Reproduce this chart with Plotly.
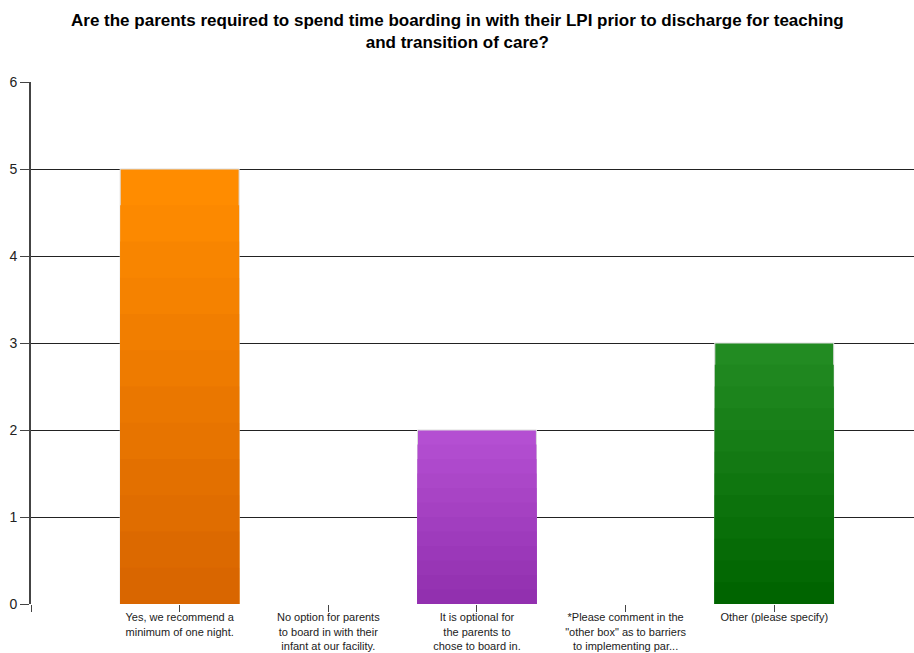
import plotly.graph_objects as go

categories = [
    "Yes, we recommend a<br>minimum of one night.",
    "No option for parents<br>to board in with their<br>infant at our facility.",
    "It is optional for<br>the parents to<br>chose to board in.",
    "*Please comment in the<br>\"other box\" as to barriers<br>to implementing par...",
    "Other (please specify)",
]
values = [5, 0, 2, 0, 3]
top_colors = ["#FF8C00", "#FF8C00", "#B44FD2", "#B44FD2", "#228B22"]
bottom_colors = ["#D96600", "#D96600", "#9230AF", "#9230AF", "#006400"]
y_ticks = [0, 1, 2, 3, 4, 5, 6]

title = ("Are the parents required to spend time boarding in with their LPI prior to discharge for teaching"
         "<br>and transition of care?")

def hex2rgb(h):
    h = h.lstrip("#")
    return tuple(int(h[i:i + 2], 16) for i in (0, 2, 4))

def mix(c1, c2, t):
    a, b = hex2rgb(c1), hex2rgb(c2)
    return "rgb(%d,%d,%d)" % tuple(round(a[i] + (b[i] - a[i]) * t) for i in range(3))

N_BANDS = 12
positions = list(range(len(categories)))

fig = go.Figure()
# gradient emulation: overlaid bars, each shorter and darker
for k in range(N_BANDS):
    frac = (N_BANDS - k) / N_BANDS
    cols = [mix(top_colors[i], bottom_colors[i], k / (N_BANDS - 1)) for i in positions]
    fig.add_trace(go.Bar(
        x=positions,
        y=[v * frac for v in values],
        width=0.8,
        marker=dict(color=cols,
                    line=dict(color="#DDDDDD",
                              width=[1 if (k == 0 and v > 0) else 0 for v in values])),
        showlegend=False,
        hoverinfo="skip" if k else None,
    ))

PLOT_H = 653 - 82 - 49
PLOT_W = 914 - 31

fig.update_layout(
    barmode="overlay",
    width=914, height=653,
    margin=dict(l=31, r=0, t=82, b=49, autoexpand=False),
    paper_bgcolor="white",
    plot_bgcolor="white",
    annotations=[dict(text="<b>" + title + "</b>",
                      x=(457 - 31) / PLOT_W, xref="paper", xanchor="center",
                      y=1 + (82 - 9) / PLOT_H, yref="paper", yanchor="top",
                      showarrow=False,
                      font=dict(family="Liberation Sans, Arial, sans-serif", size=17, color="#000"))],
    font=dict(family="Liberation Sans, Arial, sans-serif"),
)
fig.update_xaxes(
    range=[-1, 4.94],
    tickmode="array",
    tickvals=[-1] + positions,
    ticktext=[""] + categories,
    ticks="outside", ticklen=7, tickcolor="#444",
    ticklabelstandoff=-4,
    showgrid=False, zeroline=False,
    showline=False, automargin=False,
    tickfont=dict(family="Liberation Sans, Arial, sans-serif", size=11, color="#222"),
)
fig.update_yaxes(
    range=[0, 6],
    tickvals=y_ticks,
    ticks="outside", ticklen=9, tickcolor="#444",
    showgrid=True, gridcolor="#222", gridwidth=1,
    showline=True, linecolor="#444", linewidth=2,
    zeroline=False, automargin=False,
    tickfont=dict(family="Liberation Sans, Arial, sans-serif", size=14, color="#222"),
)

fig.write_html("out.html")
